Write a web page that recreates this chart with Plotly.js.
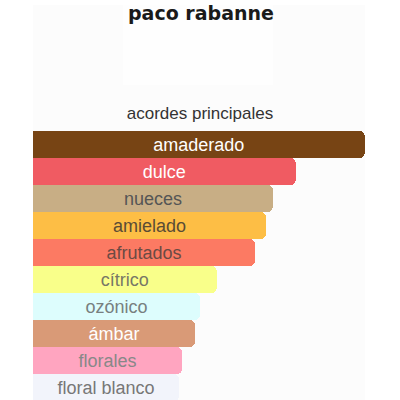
<!DOCTYPE html>
<html>
<head>
<meta charset="utf-8">
<script src="https://cdn.plot.ly/plotly-3.0.1.min.js"></script>
<style>
  html, body { margin: 0; padding: 0; background: #fff; }
  #myDiv { width: 400px; height: 400px; }
</style>
</head>
<body>
<div id="myDiv"></div>
<script>
var accords = ['amaderado', 'dulce', 'nueces', 'amielado', 'afrutados', 'cítrico', 'ozónico', 'ámbar', 'florales', 'floral blanco'];
var strength = [100, 79.2, 72.3, 70.2, 66.9, 55.4, 50.3, 48.8, 44.9, 44];
var barColors = ['#774414', '#F05B62', '#C8AE85', '#FDBE45', '#FC7A63', '#F9FF8A', '#DDFDFD', '#D99A77', '#FFA5C0', '#F2F4FB'];
var labelColors = ['#ffffff', '#ffffff', '#555555', '#5a4c35', '#6b4a44', '#777766', '#778080', '#ffffff', '#888888', '#777777'];

var trace1 = {
  x: strength,
  y: accords,
  text: accords,
  type: 'bar',
  orientation: 'h',
  marker: { color: barColors, cornerradius: 5, line: { width: 0 } },
  textposition: 'inside',
  insidetextanchor: 'middle',
  constraintext: 'none',
  textfont: { family: 'Liberation Sans, Arial, sans-serif', size: 18, color: labelColors },
  hoverinfo: 'none'
};

var layout = {
  width: 400,
  height: 400,
  margin: { l: 33, r: 35, t: 131, b: 0 },
  paper_bgcolor: '#ffffff',
  plot_bgcolor: 'rgba(0,0,0,0)',
  showlegend: false,
  bargap: 0,
  title: {
    text: 'acordes principales',
    font: { family: 'Liberation Sans, Arial, sans-serif', size: 17, color: '#333333' },
    x: 0.5,
    xref: 'container',
    y: 0.718,
    yref: 'container',
    yanchor: 'middle'
  },
  xaxis: { range: [0, 100.1], visible: false, fixedrange: true },
  yaxis: { autorange: false, range: [9.46, -0.5], visible: false, fixedrange: true },
  shapes: [
    { type: 'rect', xref: 'paper', yref: 'paper', x0: 0, x1: 1, y0: 0, y1: 1.468,
      fillcolor: '#FCFCFC', line: { width: 0 }, layer: 'below' },
    { type: 'rect', xref: 'paper', yref: 'paper', x0: 0.271, x1: 0.723, y0: 1.171, y1: 1.468,
      fillcolor: '#FEFEFE', line: { width: 0 }, layer: 'below' }
  ],
  annotations: [
    { text: '<b>paco rabanne</b>', xref: 'paper', yref: 'paper', x: 0.506, y: 1.44,
      yanchor: 'middle', showarrow: false,
      font: { family: 'DejaVu Sans, sans-serif', size: 19, color: '#1a1a1a' } }
  ]
};

Plotly.newPlot('myDiv', [trace1], layout, { displayModeBar: false, staticPlot: true });
</script>
</body>
</html>
